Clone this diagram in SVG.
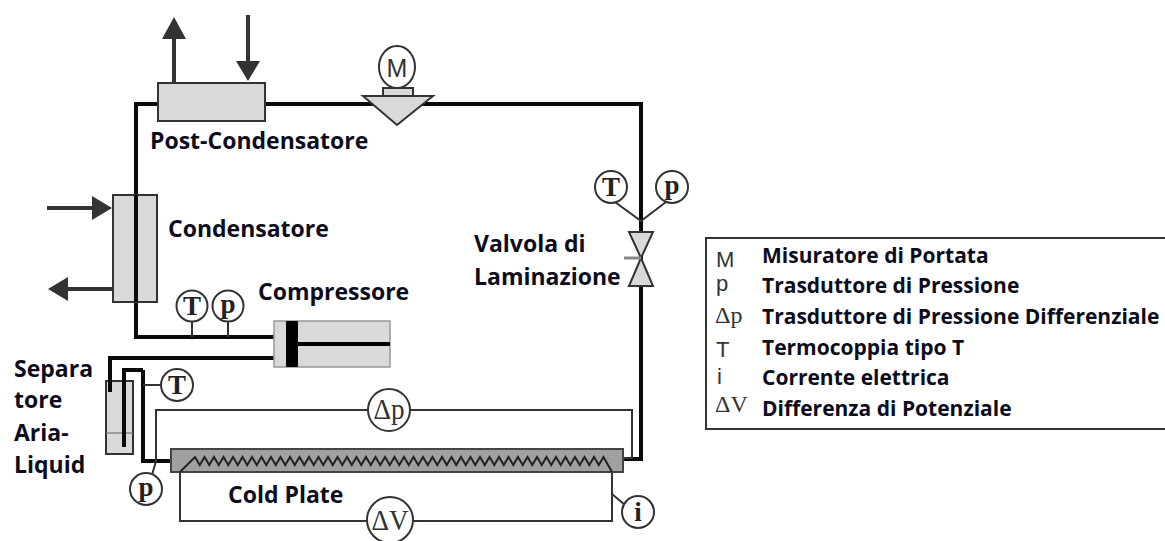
<svg xmlns="http://www.w3.org/2000/svg" width="1165" height="541" viewBox="0 0 1165 541">
<style>
text{font-family:"Open Sans","Liberation Sans",sans-serif;font-weight:700;font-size:23px;fill:#0c0c1c}
.leg{font-size:21px}
.sym{font-family:"Liberation Serif",serif;font-weight:700;fill:#222;font-size:27px;text-anchor:middle}
.sy3{font-family:"Liberation Serif",serif;font-weight:400;fill:#333;font-size:30px;text-anchor:middle}
.sy2{font-family:"Liberation Sans",sans-serif;font-weight:400;fill:#333;font-size:22px}
.sy4{font-family:"Liberation Serif",serif;font-weight:400;fill:#333;font-size:24px}
.pipe{fill:none;stroke:#0a0a0a;stroke-width:4}
.thin{fill:none;stroke:#333;stroke-width:2}
.box{fill:#d9d9d9;stroke:#333;stroke-width:2}
.ins{fill:#fff;stroke:#333;stroke-width:2}
.arr{fill:none;stroke:#333;stroke-width:4}
.head{fill:#333}
</style>
<rect width="1165" height="541" fill="#fff"/>
<g id="connectors">
<path class="pipe" d="M158 104H136V337H276"/>
<path class="pipe" d="M265 104H641V459H622"/>
<path class="pipe" d="M276 358H110V392"/>
<path class="pipe" d="M143 370V461H171"/>
<path class="thin" d="M192 320V337M228 320V337M143 385H162"/>
<path class="thin" d="M622 458H632V410H156V461L152 475"/>
<path class="thin" d="M180 472V521H612V472M612 494L625 505"/>
<path class="thin" d="M615 202L641 221L666 202"/>
<path class="arr" d="M174 83V37M248 15V63M47 208H94M113 289H66"/>
<path class="head" d="M162 39L174 17L186 39ZM236 61H260L248 81ZM92 196L112 208L92 220ZM68 277L48 289L68 301Z"/>
</g>
<g id="post-condensatore"><rect class="box" x="158" y="83" width="107" height="38"/><text x="150" y="149">Post-Condensatore</text></g>
<g id="condensatore"><rect class="box" x="113" y="195" width="44" height="107"/><path class="pipe" d="M136 195V302"/><text x="168" y="237">Condensatore</text></g>
<g id="flowmeter">
<rect class="box" x="383" y="88" width="30" height="9"/>
<path class="box" d="M363 96H433L397 125Z"/>
<ellipse class="ins" cx="397" cy="67" rx="18" ry="21"/>
<text class="sy2" x="397" y="77" text-anchor="middle" style="font-size:25px">M</text>
</g>
<g id="compressore">
<rect x="274" y="321" width="116" height="46" fill="#d9d9d9" stroke="#999" stroke-width="1.5"/>
<path d="M292 321V367" stroke="#000" stroke-width="12"/>
<path d="M292 344H390" stroke="#000" stroke-width="4"/>
<text x="258" y="300">Compressore</text>
</g>
<g id="t1"><circle class="ins" cx="192" cy="306" r="15.5"/><text class="sym" x="192" y="315">T</text></g>
<g id="p1"><circle class="ins" cx="228" cy="306" r="15.5"/><text class="sym" x="228" y="313">p</text></g>
<g id="t2"><circle class="ins" cx="611" cy="187" r="16"/><text class="sym" x="611" y="196">T</text></g>
<g id="p2"><circle class="ins" cx="672" cy="187" r="16"/><text class="sym" x="672" y="194">p</text></g>
<g id="valvola">
<path class="box" d="M629 232H653L641 258L653 286H629L641 258Z"/>
<path d="M624 258H641" stroke="#888" stroke-width="3"/>
<text x="474" y="252">Valvola di</text><text x="474" y="285">Laminazione</text>
</g>
<g id="separatore">
<rect class="box" x="106" y="381" width="27" height="73"/>
<path d="M106 433H133" stroke="#777" stroke-width="1.2"/>
<path class="pipe" d="M110 370V392M124 447V370H143"/>
<text x="14" y="377">Separa</text><text x="14" y="408">tore</text><text x="14" y="441">Aria-</text><text x="14" y="473">Liquid</text>
</g>
<g id="t3"><circle class="ins" cx="177" cy="385" r="16"/><text class="sym" x="177" y="394">T</text></g>
<g id="p3"><circle class="ins" cx="146" cy="489" r="16"/><text class="sym" x="146" y="496">p</text></g>
<g id="cold-plate">
<rect x="171" y="449" width="452" height="23" fill="#a0a0a0" stroke="#444" stroke-width="2"/>
<path fill="none" stroke="#222" stroke-width="2" d="M180 472L195 457l4.75 8 4.75-8 4.75 8 4.75-8 4.75 8 4.75-8 4.75 8 4.75-8 4.75 8 4.75-8 4.75 8 4.75-8 4.75 8 4.75-8 4.75 8 4.75-8 4.75 8 4.75-8 4.75 8 4.75-8 4.75 8 4.75-8 4.75 8 4.75-8 4.75 8 4.75-8 4.75 8 4.75-8 4.75 8 4.75-8 4.75 8 4.75-8 4.75 8 4.75-8 4.75 8 4.75-8 4.75 8 4.75-8 4.75 8 4.75-8 4.75 8 4.75-8 4.75 8 4.75-8 4.75 8 4.75-8 4.75 8 4.75-8 4.75 8 4.75-8 4.75 8 4.75-8 4.75 8 4.75-8 4.75 8 4.75-8 4.75 8 4.75-8 4.75 8 4.75-8 4.75 8 4.75-8 4.75 8 4.75-8 4.75 8 4.75-8 4.75 8 4.75-8 4.75 8 4.75-8 4.75 8 4.75-8 4.75 8 4.75-8 4.75 8 4.75-8 4.75 8 4.75-8 4.75 8 4.75-8 4.75 8 4.75-8 4.75 8 4.75-8 4.75 8 4.75-8L612 472"/>
<text x="228" y="503">Cold Plate</text>
</g>
<g id="dp"><circle class="ins" cx="389" cy="410" r="21"/><text class="sy3" x="389" y="419" textLength="31" lengthAdjust="spacingAndGlyphs">Δp</text></g>
<g id="dv"><circle class="ins" cx="390" cy="520" r="23"/><text class="sy3" x="390" y="530" textLength="37" lengthAdjust="spacingAndGlyphs">ΔV</text></g>
<g id="i"><circle class="ins" cx="638" cy="512" r="16"/><text class="sym" x="638" y="521">i</text></g>
<g id="legenda">
<path fill="none" stroke="#333" stroke-width="2" d="M1165 238H706V429H1165"/>
<text class="sy2" x="716" y="267">M</text><text class="leg" x="762" y="263">Misuratore di Portata</text>
<text class="sy2" x="716" y="291">p</text><text class="leg" x="762" y="293">Trasduttore di Pressione</text>
<text class="sy4" x="715" y="323">Δp</text><text class="leg" x="762" y="324">Trasduttore di Pressione Differenziale</text>
<text class="sy2" x="716" y="357">T</text><text class="leg" x="762" y="355">Termocoppia tipo T</text>
<text class="sy2" x="717" y="384">i</text><text class="leg" x="762" y="385">Corrente elettrica</text>
<text class="sy4" x="715" y="412">ΔV</text><text class="leg" x="762" y="416">Differenza di Potenziale</text>
</g>
</svg>
